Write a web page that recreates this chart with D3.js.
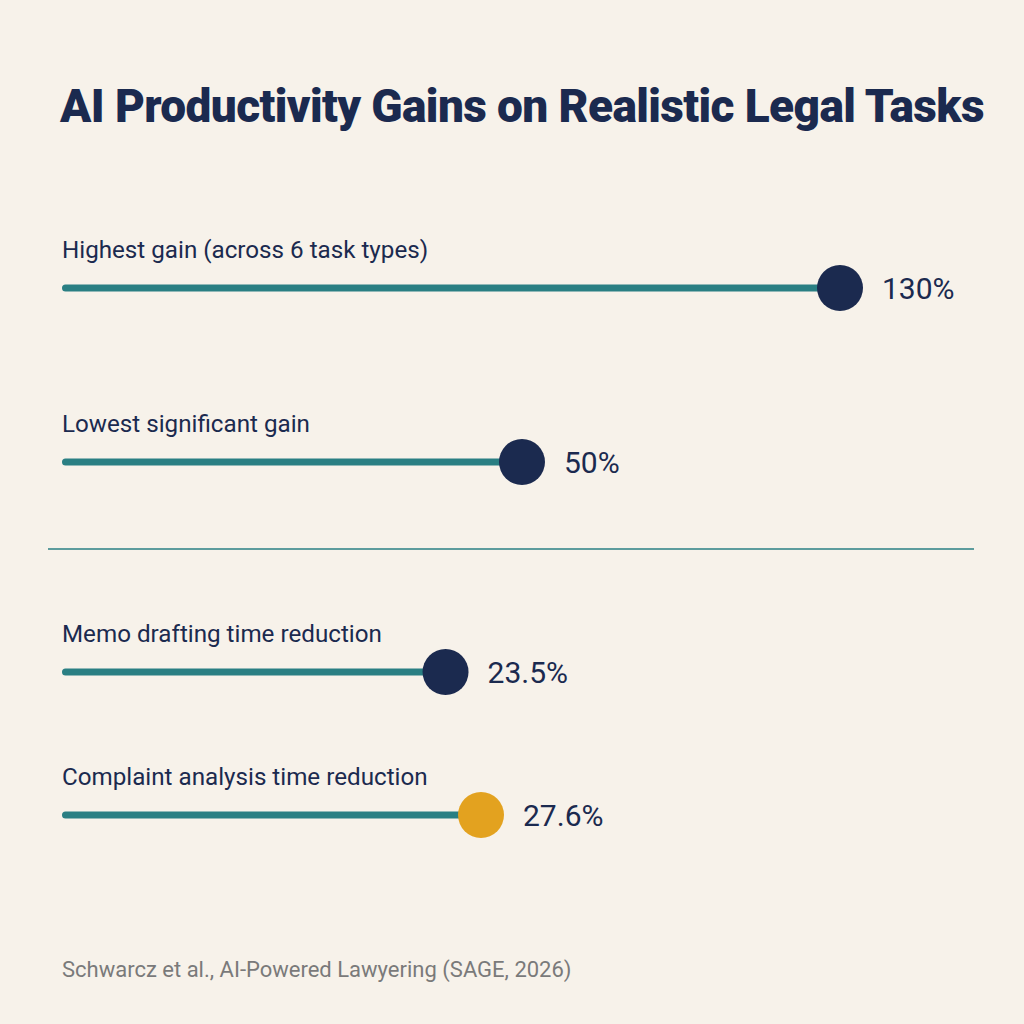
<!DOCTYPE html>
<html>
<head>
<meta charset="utf-8">
<script src="https://cdn.jsdelivr.net/npm/d3@7"></script>
<style>
    html, body { margin: 0; padding: 0; background: #f7f2ea; }
    svg { display: block; }
</style>
</head>
<body>
<svg id="chart"></svg>
<script>
    'use strict';

    // top section: productivity gains (%)
    const gainLabels = ['Highest gain (across 6 task types)', 'Lowest significant gain'];
    const gainValues = [130, 50];
    const gainText = ['130%', '50%'];

    // bottom section: time reduction (%)
    const timeLabels = ['Memo drafting time reduction', 'Complaint analysis time reduction'];
    const timeValues = [23.5, 27.6];
    const timeText = ['23.5%', '27.6%'];
    const timeColors = ['#1b2a4f', '#e3a21f'];

    const title = 'AI Productivity Gains on Realistic Legal Tasks';
    const source = 'Schwarcz et al., AI-Powered Lawyering (SAGE, 2026)';

    const width = 1024;
    const height = 1024;
    const navy = '#1b2a4f';
    const teal = '#2a7f83';
    const radius = 23;

    const svg = d3.select('#chart')
        .attr('width', width)
        .attr('height', height)
        .style('font-family', 'Roboto, "Noto Sans", sans-serif');

    svg.append('rect')
        .attr('width', width)
        .attr('height', height)
        .attr('fill', '#f7f2ea');

    svg.append('text')
        .attr('x', 60)
        .attr('y', 122)
        .attr('fill', navy)
        .style('font-size', '46px')
        .style('font-weight', 900)
        .style('letter-spacing', '-0.6px')
        .text(title);

    // each section gets its own scale, the two measures differ
    const xGain = d3.scalePow().exponent(0.55)
        .domain([0, d3.max(gainValues)])
        .range([62, 840]);
    const yGain = d3.scalePoint()
        .domain(gainLabels)
        .range([288, 462]);

    const xTime = d3.scalePow().exponent(0.55)
        .domain([0, d3.max(timeValues)])
        .range([62, 481]);
    const yTime = d3.scalePoint()
        .domain(timeLabels)
        .range([672, 815]);

    function drawRows(labels, values, texts, colors, x, y) {
        const rows = svg.append('g')
            .selectAll('g')
            .data(labels.map((label, i) => ({
                label: label,
                value: values[i],
                text: texts[i],
                color: colors[i]
            })))
            .join('g')
            .attr('transform', d => `translate(0, ${y(d.label)})`);

        rows.append('text')
            .attr('x', 62)
            .attr('y', -30)
            .attr('fill', navy)
            .style('font-size', '24.2px')
            .text(d => d.label);

        rows.append('line')
            .attr('x1', x(0) + 3.5)
            .attr('x2', d => x(d.value))
            .attr('stroke', teal)
            .attr('stroke-width', 7)
            .attr('stroke-linecap', 'round');

        rows.append('circle')
            .attr('cx', d => x(d.value))
            .attr('r', radius)
            .attr('fill', d => d.color);

        rows.append('text')
            .attr('x', d => x(d.value) + radius + 19)
            .attr('y', 11)
            .attr('fill', navy)
            .style('font-size', '30px')
            .text(d => d.text);
    }

    drawRows(gainLabels, gainValues, gainText, [navy, navy], xGain, yGain);
    drawRows(timeLabels, timeValues, timeText, timeColors, xTime, yTime);

    svg.append('line')
        .attr('x1', 48)
        .attr('x2', 974)
        .attr('y1', 549)
        .attr('y2', 549)
        .attr('stroke', teal)
        .attr('stroke-width', 1.5);

    svg.append('text')
        .attr('x', 62)
        .attr('y', 977)
        .attr('fill', '#7a7a7a')
        .style('font-size', '22px')
        .text(source);
</script>
</body>
</html>
